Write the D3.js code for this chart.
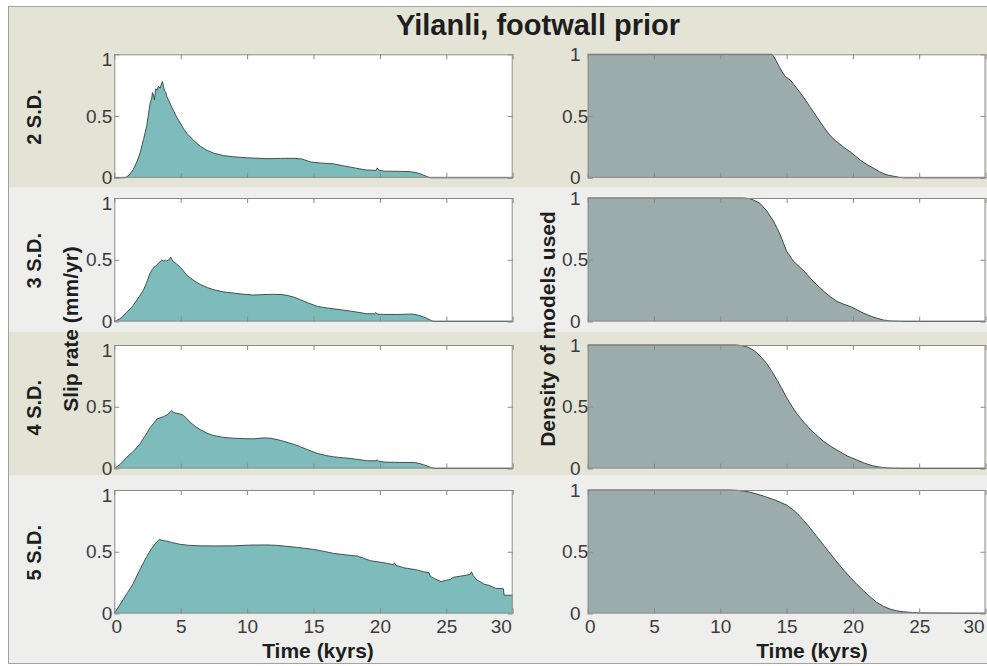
<!DOCTYPE html>
<html>
<head>
<meta charset="utf-8">
<script src="https://cdn.jsdelivr.net/npm/d3@7"></script>
<style>
  body { margin: 0; background: #ffffff; }
  svg { display: block; }
  text { font-family: "Liberation Sans", Arial, Helvetica, sans-serif; }
</style>
</head>
<body>
<svg id="fig" width="987" height="666"></svg>
<script>
// ---- data -----------------------------------------------------------------
const figureTitle = "Yilanli, footwall prior";
const rowLabels = ["2 S.D.", "3 S.D.", "4 S.D.", "5 S.D."];
const timeTicks = [0, 5, 10, 15, 20, 25, 30];
const valueTicks = [0, 0.5, 1];
const timeLabel = "Time (kyrs)";
const slipLabel = "Slip rate (mm/yr)";
const densityLabel = "Density of models used";

// slip rate (mm/yr) against time (kyrs): [time, rate]
const rate2sd = [[0,0],[0.8,0],[1.1,0.02],[1.43,0.067],[1.7,0.13],[1.94,0.2],[2.2,0.31],[2.44,0.42],
  [2.69,0.6],[2.82,0.645],[2.87,0.69],[2.95,0.67],[3.02,0.63],[3.12,0.72],[3.22,0.71],[3.32,0.74],
  [3.45,0.725],[3.55,0.76],[3.62,0.78],[3.7,0.74],[3.77,0.71],[3.88,0.69],[3.95,0.66],[4.08,0.63],
  [4.25,0.59],[4.45,0.545],[4.7,0.49],[4.96,0.445],[5.2,0.4],[5.46,0.36],[6.0,0.3],[6.47,0.255],
  [7.0,0.222],[7.47,0.2],[8.2,0.18],[8.98,0.17],[10,0.162],[11.5,0.155],[12.5,0.157],[13.5,0.158],
  [14.1,0.153],[14.8,0.128],[15.5,0.12],[16.5,0.113],[17.2,0.098],[17.8,0.086],[18.5,0.072],
  [19.0,0.063],[19.7,0.06],[19.8,0.08],[19.9,0.062],[20.3,0.054],[21.5,0.052],[22.3,0.05],
  [22.8,0.04],[23.1,0.03],[23.5,0.012],[23.8,0],[30,0]];

const rate3sd = [[0,0],[0.43,0.022],[0.9,0.07],[1.43,0.13],[1.8,0.19],[2.19,0.253],[2.45,0.32],
  [2.69,0.39],[2.85,0.42],[3.0,0.44],[3.2,0.456],[3.4,0.48],[3.57,0.497],[3.7,0.49],[3.85,0.495],
  [3.95,0.49],[4.1,0.5],[4.25,0.52],[4.35,0.5],[4.45,0.485],[4.7,0.465],[4.96,0.44],[5.2,0.41],
  [5.46,0.375],[6.0,0.33],[6.47,0.3],[7.0,0.275],[7.47,0.258],[8.2,0.24],[8.98,0.23],[9.8,0.22],
  [10.5,0.214],[11.2,0.218],[12.0,0.22],[12.6,0.218],[13.0,0.212],[13.5,0.198],[14.0,0.177],
  [14.6,0.15],[15.3,0.122],[16.0,0.11],[16.5,0.103],[17.2,0.093],[17.8,0.084],[18.5,0.072],
  [19.0,0.063],[19.6,0.062],[19.7,0.072],[19.8,0.06],[20.3,0.057],[21.3,0.057],[22.3,0.06],
  [22.6,0.058],[22.95,0.049],[23.45,0.03],[24.0,0],[30,0]];

const rate4sd = [[0,0],[0.45,0.035],[0.93,0.09],[1.45,0.14],[1.94,0.2],[2.3,0.26],[2.69,0.33],
  [3.0,0.37],[3.2,0.4],[3.45,0.41],[3.7,0.42],[3.9,0.43],[4.08,0.443],[4.2,0.455],[4.33,0.47],
  [4.45,0.455],[4.58,0.45],[4.8,0.445],[5.0,0.44],[5.21,0.43],[5.45,0.405],[5.71,0.375],[6.1,0.34],
  [6.47,0.315],[7.0,0.285],[7.47,0.267],[8.2,0.252],[8.98,0.245],[9.8,0.242],[10.5,0.24],
  [11.25,0.248],[11.8,0.245],[12.0,0.24],[12.5,0.228],[13.0,0.212],[13.5,0.196],[14.0,0.177],
  [14.6,0.15],[15.3,0.122],[16.0,0.104],[16.5,0.095],[17.2,0.087],[17.8,0.081],[18.5,0.071],
  [19.0,0.063],[19.7,0.062],[19.8,0.069],[19.9,0.06],[20.3,0.052],[21.5,0.049],[22.6,0.049],
  [23.0,0.04],[23.3,0.03],[23.7,0.014],[24.1,0],[30,0]];

const rate5sd = [[0,0],[0.5,0.085],[1.0,0.17],[1.43,0.243],[1.9,0.35],[2.44,0.46],[2.8,0.525],
  [3.2,0.58],[3.4,0.6],[3.6,0.592],[3.95,0.586],[4.4,0.573],[4.96,0.56],[5.6,0.552],[6.47,0.548],
  [7.5,0.547],[8.98,0.548],[10.2,0.554],[11.5,0.555],[12.2,0.552],[12.8,0.546],[13.8,0.535],
  [15.0,0.519],[15.8,0.503],[16.5,0.487],[17.4,0.475],[18.3,0.465],[18.7,0.45],[19.3,0.427],
  [20.05,0.415],[20.6,0.405],[21.0,0.395],[21.1,0.41],[21.2,0.39],[21.8,0.37],[22.1,0.365],
  [22.7,0.355],[23.3,0.338],[23.7,0.33],[23.8,0.3],[24.1,0.284],[24.6,0.257],[24.8,0.265],
  [25.0,0.27],[25.3,0.275],[25.5,0.292],[25.8,0.298],[26.1,0.303],[26.5,0.31],[26.8,0.318],
  [26.9,0.338],[27.0,0.31],[27.3,0.272],[27.6,0.255],[27.85,0.237],[28.2,0.228],[28.7,0.205],
  [29.3,0.2],[29.35,0.148],[30,0.148]];

// fraction of models still in use against time (kyrs): [time, density]
const density2sd = [[0,1],[13.9,1],[14.1,0.97],[14.4,0.91],[14.65,0.86],[14.9,0.82],[15.3,0.79],
  [15.8,0.72],[16.3,0.65],[16.8,0.57],[17.3,0.49],[17.8,0.41],[18.3,0.34],[18.7,0.3],[19.0,0.275],
  [19.4,0.24],[19.8,0.21],[20.2,0.175],[20.6,0.14],[21.1,0.105],[21.6,0.075],[22.0,0.05],
  [22.3,0.034],[22.7,0.02],[23.1,0.012],[23.5,0.004],[23.8,0],[30,0]];

const density3sd = [[0,1],[11.75,1],[12.2,0.995],[12.5,0.984],[13.0,0.956],[13.5,0.896],[14.0,0.815],
  [14.5,0.707],[15.0,0.57],[15.5,0.49],[15.9,0.45],[16.3,0.41],[17.0,0.326],[17.8,0.245],[18.3,0.2],
  [18.8,0.163],[19.3,0.14],[19.8,0.122],[20.3,0.095],[20.8,0.068],[21.3,0.045],[21.8,0.027],
  [22.3,0.012],[22.8,0.005],[23.5,0.001],[24,0],[30,0]];

const density4sd = [[0,1],[11.2,1],[11.6,0.995],[12.0,0.986],[12.4,0.965],[12.75,0.937],[13.1,0.9],
  [13.5,0.85],[13.9,0.785],[14.3,0.713],[14.65,0.645],[15.0,0.575],[15.4,0.505],[15.8,0.44],
  [16.3,0.375],[16.8,0.316],[17.3,0.265],[17.8,0.22],[18.4,0.175],[19.0,0.137],[19.6,0.1],
  [20.3,0.069],[20.9,0.042],[21.5,0.022],[22.1,0.01],[22.8,0.003],[23.5,0.001],[24.5,0],[30,0]];

const density5sd = [[0,1],[10.7,1],[11.2,0.998],[11.75,0.992],[12.25,0.982],[12.75,0.967],[13.4,0.946],
  [14.0,0.924],[14.5,0.902],[15.0,0.878],[15.4,0.848],[15.8,0.81],[16.3,0.752],[16.8,0.688],
  [17.3,0.62],[17.8,0.552],[18.3,0.484],[18.8,0.416],[19.3,0.352],[19.8,0.293],[20.3,0.236],
  [20.8,0.185],[21.3,0.135],[21.8,0.09],[22.3,0.058],[22.8,0.036],[23.3,0.022],[23.8,0.014],
  [24.5,0.008],[25.1,0.005],[27.9,0.002],[30,0.001]];

const slipSeries = [rate2sd, rate3sd, rate4sd, rate5sd];
const densitySeries = [density2sd, density3sd, density4sd, density5sd];

// ---- layout ---------------------------------------------------------------
const svg = d3.select("#fig");
const frame = { x: 8, y: 6, w: 990, h: 658 };
const bands = [
  { y0: 6, y1: 187, fill: "#e3e4d6" },
  { y0: 187, y1: 332, fill: "#eeeeed" },
  { y0: 332, y1: 475, fill: "#e3e4d6" },
  { y0: 475, y1: 664, fill: "#eeeeed" }
];
const columns = [
  { x0: 114.3, x1: 512.7, fill: "#7ebcbc", line: "#2f4545", labelAnchor: "end", labelX: -2, topLabelDy: 5 },
  { x0: 587.7, x1: 985.5, fill: "#9cacac", line: "#2f3a3a", labelAnchor: "middle", labelX: -12.5, topLabelDy: 0 }
];
const rowTops = [54.3, 198, 345, 490];
const panelH = 123.5;
const axisGrey = "#8a8a8a";
const tickText = "#3c3c3c";
const labelText = "#1e1e1e";

// background bands and outer figure border
svg.selectAll("rect.band").data(bands).join("rect")
  .attr("class", "band")
  .attr("x", frame.x).attr("y", d => d.y0)
  .attr("width", frame.w).attr("height", d => d.y1 - d.y0)
  .attr("fill", d => d.fill);
svg.append("rect")
  .attr("x", frame.x + 0.5).attr("y", frame.y + 0.5)
  .attr("width", frame.w).attr("height", frame.h - 1)
  .attr("fill", "none").attr("stroke", "#a2a2a2").attr("stroke-width", 1);

// title
svg.append("text")
  .attr("x", 538).attr("y", 35)
  .attr("text-anchor", "middle")
  .attr("font-size", 29).attr("font-weight", "bold")
  .attr("fill", labelText)
  .text(figureTitle);

// ---- panels ---------------------------------------------------------------
function drawPanel(col, rowIndex, data, showTimeLabels) {
  const w = col.x1 - col.x0;
  const x = d3.scaleLinear().domain([0, 30]).range([0, w]);
  const y = d3.scaleLinear().domain([0, 1]).range([panelH, 0]);
  const g = svg.append("g").attr("transform", `translate(${col.x0},${rowTops[rowIndex]})`);

  g.append("rect").attr("width", w).attr("height", panelH).attr("fill", "#ffffff");

  const area = d3.area().x(d => x(d[0])).y0(y(0)).y1(d => y(d[1]));
  const line = d3.line().x(d => x(d[0])).y(d => y(d[1]));
  g.append("path").datum(data).attr("d", area).attr("fill", col.fill);
  g.append("path").datum(data).attr("d", line)
    .attr("fill", "none").attr("stroke", col.line).attr("stroke-width", 0.9)
    .attr("stroke-linejoin", "round");

  // inward ticks on all four sides
  const bottom = g.append("g").attr("transform", `translate(0,${panelH})`)
    .call(d3.axisBottom(x).tickValues(timeTicks).tickSizeInner(-5).tickSizeOuter(0).tickPadding(6)
      .tickFormat(showTimeLabels ? d3.format("d") : () => ""));
  g.append("g")
    .call(d3.axisTop(x).tickValues(timeTicks).tickSizeInner(-5).tickSizeOuter(0).tickFormat(() => ""));
  const left = g.append("g")
    .call(d3.axisLeft(y).tickValues(valueTicks).tickSizeInner(-5).tickSizeOuter(0)
      .tickFormat(d => d === 0.5 ? "0.5" : String(d)));
  g.append("g").attr("transform", `translate(${w},0)`)
    .call(d3.axisRight(y).tickValues(valueTicks).tickSizeInner(-5).tickSizeOuter(0).tickFormat(() => ""));

  g.selectAll(".domain").remove();
  g.selectAll(".tick line").attr("stroke", axisGrey);
  g.selectAll(".tick text").attr("font-family", null);

  bottom.selectAll(".tick text")
    .attr("font-size", 19).attr("fill", tickText)
    .attr("dx", d => d === 30 ? -12 : (d === 0 ? 2 : 0));
  left.selectAll(".tick text")
    .attr("font-size", 19).attr("fill", tickText)
    .attr("text-anchor", col.labelAnchor)
    .attr("x", col.labelX)
    .attr("dy", d => d === 1 ? (0.32 * 19 + col.topLabelDy) + "px" : "0.32em");

  g.append("rect").attr("x", 0.5).attr("y", 0.5).attr("width", w - 1).attr("height", panelH - 1)
    .attr("fill", "none").attr("stroke", axisGrey).attr("stroke-width", 1);
}

rowLabels.forEach((label, i) => {
  const last = i === rowLabels.length - 1;
  drawPanel(columns[0], i, slipSeries[i], last);
  drawPanel(columns[1], i, densitySeries[i], last);

  svg.append("text")
    .attr("transform", `translate(41,${rowTops[i] + panelH / 2 + 1}) rotate(-90)`)
    .attr("text-anchor", "middle")
    .attr("font-size", 20).attr("font-weight", "bold").attr("fill", labelText)
    .text(label);
});

// axis titles
svg.append("text")
  .attr("transform", "translate(78,329) rotate(-90)")
  .attr("text-anchor", "middle")
  .attr("font-size", 21).attr("font-weight", "bold").attr("fill", labelText)
  .text(slipLabel);
svg.append("text")
  .attr("transform", "translate(555,329) rotate(-90)")
  .attr("text-anchor", "middle")
  .attr("font-size", 21).attr("font-weight", "bold").attr("fill", labelText)
  .text(densityLabel);
[318, 812].forEach(cx => {
  svg.append("text")
    .attr("x", cx).attr("y", 658)
    .attr("text-anchor", "middle")
    .attr("font-size", 21).attr("font-weight", "bold").attr("fill", labelText)
    .text(timeLabel);
});
</script>
</body>
</html>
